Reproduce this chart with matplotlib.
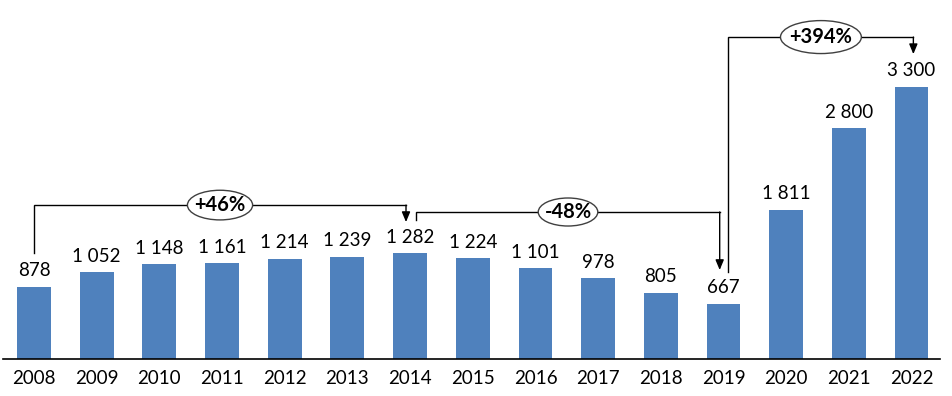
import matplotlib.pyplot as plt
from matplotlib.patches import Ellipse

plt.rcParams['font.family'] = ['Lato', 'DejaVu Sans']

years = ['2008', '2009', '2010', '2011', '2012', '2013', '2014', '2015',
         '2016', '2017', '2018', '2019', '2020', '2021', '2022']
values = [878, 1052, 1148, 1161, 1214, 1239, 1282, 1224, 1101, 978, 805,
          667, 1811, 2800, 3300]

# (from index, to index, label)
changes = [(0, 6, '+46%'), (6, 11, '-48%'), (11, 14, '+394%')]

bar_color = '#4F81BD'

fig = plt.figure(figsize=(9.52, 3.96), dpi=100)
ax = fig.add_axes([3 / 952, 37 / 396, 937 / 952, 359 / 396])

x = list(range(len(years)))
ax.bar(x, values, width=0.54, color=bar_color, zorder=2)

for xi, v in zip(x, values):
    ax.annotate(f'{v:,}'.replace(',', ' '), (xi, v), xytext=(0, 5.5),
                textcoords='offset points', ha='center', va='bottom',
                fontsize=13.5)

ax.set_xlim(-0.495, 14.455)
ax.set_ylim(0, 4357)
ax.set_xticks(x)
ax.set_xticklabels(years, fontsize=13.5)
ax.set_yticks([])
ax.tick_params(axis='x', length=0, pad=8)
for s in ['top', 'left', 'right']:
    ax.spines[s].set_visible(False)
ax.spines['bottom'].set_linewidth(1.2)

# bracket geometry: (x start, y start, y top, x end, y tip, ellipse w, ellipse h)
geom = [
    (0.0, 1290, 1868, 5.935, 1662, 1.04, 360),
    (6.1, 1686, 1784, 10.94, 1080, 0.95, 340),
    (11.08, 1056, 3907, 14.03, 3700, 1.29, 400),
]

for (i0, i1, label), (xs, ys, yt, xe, ytip, ew, eh) in zip(changes, geom):
    ax.plot([xs, xs, xe], [ys, yt, yt], color='black', lw=1, zorder=3,
            solid_joinstyle='miter')
    ax.annotate('', xy=(xe, ytip), xytext=(xe, yt),
                arrowprops=dict(arrowstyle='-|>,head_length=0.6,head_width=0.25',
                                color='black', lw=1, shrinkA=0, shrinkB=0),
                zorder=3)
    xc = (xs + xe) / 2
    ax.add_patch(Ellipse((xc, yt), ew, eh, facecolor='white',
                         edgecolor='#404040', lw=1, zorder=4))
    ax.text(xc, yt, label, ha='center', va='center', fontsize=14.5,
            fontweight='bold', zorder=5)

fig.savefig('out.png', dpi=100)
